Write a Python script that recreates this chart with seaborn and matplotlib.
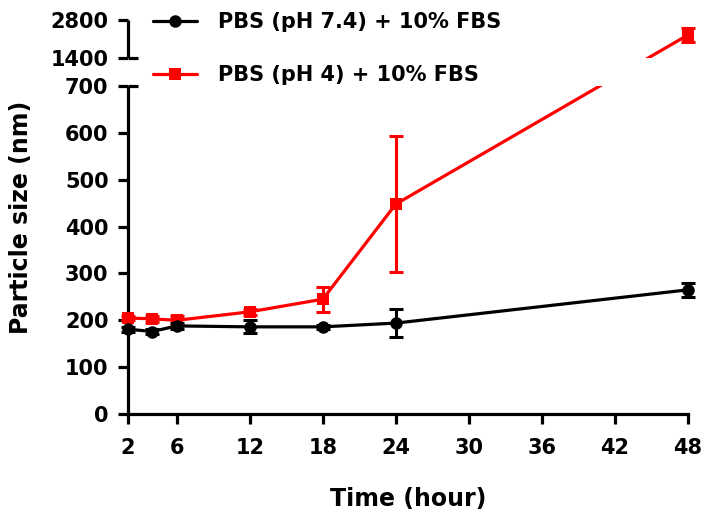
import numpy as np
import pandas as pd
import matplotlib
matplotlib.use("Agg")
import matplotlib.pyplot as plt
import seaborn as sns

# ---- data ----
time_h = [2, 4, 6, 12, 18, 24, 48]
ph74_mean = [181, 176, 188, 186, 186, 194, 265]
ph74_err = [5, 5, 6, 14, 4, 30, 15]
ph4_mean = [205, 203, 200, 218, 245, 448, 2250]
ph4_err = [5, 6, 10, 6, 27, 145, 270]
series_labels = ["PBS (pH 7.4) + 10% FBS", "PBS (pH 4) + 10% FBS"]
xticks = [2, 6, 12, 18, 24, 30, 36, 42, 48]
yticks = [0, 100, 200, 300, 400, 500, 600, 700, 1400, 2800]

sns.set_style("ticks")
plt.rcParams['font.family'] = ['DejaVu Sans']
plt.rcParams['font.weight'] = 'bold'
for k in ['text.color', 'axes.labelcolor', 'xtick.color', 'ytick.color',
          'axes.edgecolor']:
    plt.rcParams[k] = 'black'

# broken-axis scale: 0-700 linear, gap, 1400-2800 compressed
GAP = 28.0 / 328.0 * 700.0
HI_K = (38.0 / 328.0 * 700.0) / 1400.0

def fwd(y):
    y = np.asarray(y, dtype=float)
    return np.where(y <= 700, y,
           np.where(y < 1400, 700 + (y - 700) * GAP / 700.0,
                    700 + GAP + (y - 1400) * HI_K))

def inv(v):
    v = np.asarray(v, dtype=float)
    return np.where(v <= 700, v,
           np.where(v < 700 + GAP, 700 + (v - 700) * 700.0 / GAP,
                    1400 + (v - 700 - GAP) / HI_K))

df = pd.DataFrame({
    "time": time_h * 2,
    "size": ph74_mean + ph4_mean,
    "series": [series_labels[0]] * len(time_h) + [series_labels[1]] * len(time_h),
})

fig = plt.figure(figsize=(7.04, 5.15), dpi=100)
ax = fig.add_axes([128 / 704, 1 - 414 / 515, 560 / 704, 394 / 515])
ax.set_yscale('function', functions=(fwd, inv))

palette = {series_labels[0]: "black", series_labels[1]: "#ff0000"}
markers = {series_labels[0]: "o", series_labels[1]: "s"}
sns.lineplot(data=df, x="time", y="size", hue="series", style="series",
             palette=palette, markers=markers, dashes=False, ax=ax,
             linewidth=2.3, markersize=9, markeredgewidth=0, zorder=3,
             legend=True)
for line in ax.lines:
    line.set_clip_on(False)
ax.lines[0].set_zorder(3.6)

ax.errorbar(time_h, ph74_mean, yerr=ph74_err, fmt='none', ecolor='black',
            elinewidth=2.2, capsize=5, capthick=2.2, zorder=3.5, clip_on=False)
ax.errorbar(time_h, ph4_mean, yerr=ph4_err, fmt='none', ecolor='#ff0000',
            elinewidth=2.2, capsize=5, capthick=2.2, zorder=3, clip_on=False)

ax.set_xlim(2, 48)
ax.set_ylim(0, 2800)
ax.set_xticks(xticks)
ax.set_yticks(yticks)
ax.set_yticklabels([str(t) for t in yticks])

# white gap over break
ax.axhspan(700, 1400, color='white', zorder=4, lw=0)

for s in ['top', 'right']:
    ax.spines[s].set_visible(False)
for s in ['left', 'bottom']:
    ax.spines[s].set_linewidth(2.3)
ax.spines['left'].set_bounds(0, 700)
ax.plot([0, 0], [1400, 2800], transform=ax.get_yaxis_transform(),
        color='black', lw=2.3, clip_on=False, zorder=5, solid_capstyle='butt')
# small inward caps at the break ends
for yb in (700, 1400):
    ax.plot([0, 0.018], [yb, yb], transform=ax.get_yaxis_transform(),
            color='black', lw=2.3, clip_on=False, zorder=5, solid_capstyle='butt')

ax.tick_params(axis='both', direction='out', length=7, width=2.3,
               labelsize=15, pad=7)
ax.tick_params(axis='x', pad=10)
for lab in ax.get_xticklabels() + ax.get_yticklabels():
    lab.set_fontweight('bold')

ax.set_xlabel("Time (hour)", fontsize=17, fontweight='bold', labelpad=21)
ax.set_ylabel("Particle size (nm)", fontsize=17, fontweight='bold')
ax.yaxis.set_label_coords(-0.17, 0.5)

handles, labels = ax.get_legend_handles_labels()
leg = ax.legend(handles, labels, loc='upper left',
                bbox_to_anchor=(153 / 704, 1 - 12 / 515),
                bbox_transform=fig.transFigure, frameon=False,
                fontsize=15, handlelength=2.1, handletextpad=1.0,
                labelspacing=1.6, borderpad=0, borderaxespad=0)
for t in leg.get_texts():
    t.set_fontweight('bold')
leg.set_zorder(6)

fig.savefig("out.png", dpi=100)
